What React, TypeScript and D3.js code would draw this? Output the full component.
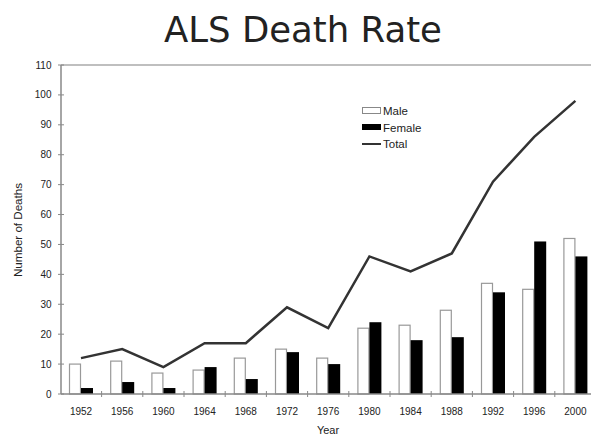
import React, { useEffect, useRef } from 'react';
import * as d3 from 'd3';

const years = ['1952', '1956', '1960', '1964', '1968', '1972', '1976', '1980', '1984', '1988', '1992', '1996', '2000'];
const male = [10, 11, 7, 8, 12, 15, 12, 22, 23, 28, 37, 35, 52];
const female = [2, 4, 2, 9, 5, 14, 10, 24, 18, 19, 34, 51, 46];
const total = [12, 15, 9, 17, 17, 29, 22, 46, 41, 47, 71, 86, 98];
const yTicks = [0, 10, 20, 30, 40, 50, 60, 70, 80, 90, 100, 110];

export default function App() {
  const svgRef = useRef<SVGSVGElement>(null);

  useEffect(() => {
    if (!svgRef.current) return;
    const svg = d3.select(svgRef.current);
    svg.selectAll('*').remove();

    const left = 61;
    const top = 65;
    const bottom = 394;
    const right = 596;
    const font = '"Liberation Sans", Arial, sans-serif';

    const x = d3.scaleBand().domain(years).range([60.4, right]).padding(0);
    const y = d3.scaleLinear().domain([0, 110]).range([bottom, top]);
    const bw = 12;

    // Title
    svg.append('text')
      .attr('x', 303)
      .attr('y', 42)
      .attr('text-anchor', 'middle')
      .style('font-family', '"DejaVu Sans", Verdana, sans-serif')
      .style('font-size', '35.5px')
      .attr('fill', '#222')
      .text('ALS Death Rate');

    // top frame line
    svg.append('line')
      .attr('x1', left).attr('x2', 591)
      .attr('y1', top).attr('y2', top)
      .attr('stroke', '#aaa').attr('stroke-width', 1.5);

    // bars
    const g = svg.append('g');
    g.selectAll('rect.male')
      .data(years)
      .enter()
      .append('rect')
      .attr('class', 'male')
      .attr('x', (d) => (x(d) as number) + x.bandwidth() / 2 - bw + 0.5)
      .attr('y', (_, i) => y(male[i]))
      .attr('width', bw - 1)
      .attr('height', (_, i) => bottom - y(male[i]))
      .attr('fill', '#fff')
      .attr('stroke', '#999')
      .attr('stroke-width', 1.2);

    g.selectAll('rect.female')
      .data(years)
      .enter()
      .append('rect')
      .attr('class', 'female')
      .attr('x', (d) => (x(d) as number) + x.bandwidth() / 2)
      .attr('y', (_, i) => y(female[i]))
      .attr('width', bw)
      .attr('height', (_, i) => bottom - y(female[i]))
      .attr('fill', '#000');

    // total line
    const line = d3.line<number>()
      .x((_, i) => (x(years[i]) as number) + x.bandwidth() / 2)
      .y((d) => y(d));
    svg.append('path')
      .datum(total)
      .attr('d', line)
      .attr('fill', 'none')
      .attr('stroke', '#333')
      .attr('stroke-width', 2.5);

    // y axis
    svg.append('line')
      .attr('x1', left).attr('x2', left)
      .attr('y1', top).attr('y2', bottom)
      .attr('stroke', '#888').attr('stroke-width', 1.5);
    const yg = svg.append('g');
    yg.selectAll('line')
      .data(yTicks)
      .enter()
      .append('line')
      .attr('x1', left - 3).attr('x2', left + 3)
      .attr('y1', (d) => y(d)).attr('y2', (d) => y(d))
      .attr('stroke', '#888');
    yg.selectAll('text')
      .data(yTicks)
      .enter()
      .append('text')
      .attr('x', 51.5)
      .attr('y', (d) => y(d) + 3.5)
      .attr('text-anchor', 'end')
      .style('font-family', font)
      .style('font-size', '10px')
      .attr('fill', '#222')
      .text((d) => d);

    // x axis
    svg.append('line')
      .attr('x1', left).attr('x2', 591)
      .attr('y1', bottom).attr('y2', bottom)
      .attr('stroke', '#888').attr('stroke-width', 1.5);
    const xg = svg.append('g');
    xg.selectAll('line')
      .data(years.slice(1))
      .enter()
      .append('line')
      .attr('x1', (d) => x(d) as number).attr('x2', (d) => x(d) as number)
      .attr('y1', bottom - 3).attr('y2', bottom + 3)
      .attr('stroke', '#888');
    xg.selectAll('text')
      .data(years)
      .enter()
      .append('text')
      .attr('x', (d) => (x(d) as number) + x.bandwidth() / 2)
      .attr('y', 415)
      .attr('text-anchor', 'middle')
      .style('font-family', font)
      .style('font-size', '10px')
      .attr('fill', '#222')
      .text((d) => d);

    // axis titles
    svg.append('text')
      .attr('x', 328)
      .attr('y', 434)
      .attr('text-anchor', 'middle')
      .style('font-family', font)
      .style('font-size', '11px')
      .attr('fill', '#222')
      .text('Year');
    svg.append('text')
      .attr('transform', 'translate(22,230) rotate(-90)')
      .attr('text-anchor', 'middle')
      .attr('textLength', 94)
      .attr('lengthAdjust', 'spacingAndGlyphs')
      .style('font-family', font)
      .style('font-size', '10.5px')
      .attr('fill', '#222')
      .text('Number of Deaths');

    // legend
    const legend = svg.append('g').attr('transform', 'translate(362,104)');
    legend.append('rect')
      .attr('x', 0.5).attr('y', 3.5).attr('width', 18).attr('height', 6)
      .attr('fill', '#fff').attr('stroke', '#888');
    legend.append('text')
      .attr('x', 21).attr('y', 10.5)
      .style('font-family', font).style('font-size', '11.5px').attr('fill', '#222')
      .text('Male');
    legend.append('rect')
      .attr('x', 0).attr('y', 20).attr('width', 19).attr('height', 6)
      .attr('fill', '#000');
    legend.append('text')
      .attr('x', 21).attr('y', 27.5)
      .style('font-family', font).style('font-size', '11.5px').attr('fill', '#222')
      .text('Female');
    legend.append('line')
      .attr('x1', 0).attr('x2', 19).attr('y1', 40).attr('y2', 40)
      .attr('stroke', '#333').attr('stroke-width', 2);
    legend.append('text')
      .attr('x', 21).attr('y', 44)
      .style('font-family', font).style('font-size', '11.5px').attr('fill', '#222')
      .text('Total');
  }, []);

  return (
    <svg
      ref={svgRef}
      width={591}
      height={436}
      style={{ position: 'absolute', left: 0, top: 0, background: '#fff' }}
    />
  );
}
